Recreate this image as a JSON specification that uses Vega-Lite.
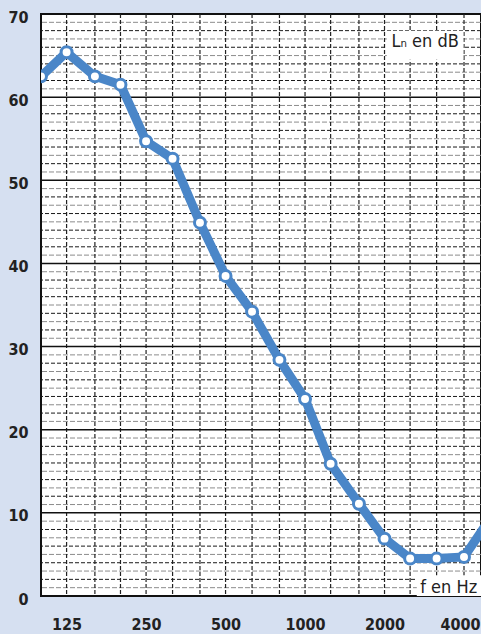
{
  "$schema": "https://vega.github.io/schema/vega-lite/v6.json",
  "width": 440,
  "height": 582,
  "autosize": {"type": "none"},
  "padding": {"left": 41, "top": 14, "right": 0, "bottom": 38},
  "background": "#d6e0f1",
  "config": {
    "view": {"fill": "white", "stroke": "#111111", "strokeWidth": 2},
    "axis": {
      "labelFont": "Liberation Sans Narrow, DejaVu Sans Condensed, sans-serif",
      "labelFontSize": 16,
      "labelFontWeight": "bold",
      "labelColor": "#222222",
      "domain": false,
      "ticks": false,
      "grid": false,
      "title": null
    }
  },
  "datasets": {
    "curve": [
      {"f": 100, "L": 62.5},
      {"f": 125, "L": 65.4},
      {"f": 160, "L": 62.5},
      {"f": 200, "L": 61.5},
      {"f": 250, "L": 54.7},
      {"f": 315, "L": 52.6},
      {"f": 400, "L": 44.9},
      {"f": 500, "L": 38.5},
      {"f": 630, "L": 34.2},
      {"f": 800, "L": 28.4},
      {"f": 1000, "L": 23.7},
      {"f": 1250, "L": 15.9},
      {"f": 1600, "L": 11.1},
      {"f": 2000, "L": 6.9},
      {"f": 2500, "L": 4.5},
      {"f": 3150, "L": 4.5},
      {"f": 4000, "L": 4.7},
      {"f": 5000, "L": 9.2}
    ],
    "oddLines": [
      {"dB": 1}, {"dB": 3}, {"dB": 5}, {"dB": 7}, {"dB": 9},
      {"dB": 11}, {"dB": 13}, {"dB": 15}, {"dB": 17}, {"dB": 19},
      {"dB": 21}, {"dB": 23}, {"dB": 25}, {"dB": 27}, {"dB": 29},
      {"dB": 31}, {"dB": 33}, {"dB": 35}, {"dB": 37}, {"dB": 39},
      {"dB": 41}, {"dB": 43}, {"dB": 45}, {"dB": 47}, {"dB": 49},
      {"dB": 51}, {"dB": 53}, {"dB": 55}, {"dB": 57}, {"dB": 59},
      {"dB": 61}, {"dB": 63}, {"dB": 65}, {"dB": 67}, {"dB": 69}
    ],
    "evenLines": [
      {"dB": 2}, {"dB": 4}, {"dB": 6}, {"dB": 8},
      {"dB": 12}, {"dB": 14}, {"dB": 16}, {"dB": 18},
      {"dB": 22}, {"dB": 24}, {"dB": 26}, {"dB": 28},
      {"dB": 32}, {"dB": 34}, {"dB": 36}, {"dB": 38},
      {"dB": 42}, {"dB": 44}, {"dB": 46}, {"dB": 48},
      {"dB": 52}, {"dB": 54}, {"dB": 56}, {"dB": 58},
      {"dB": 62}, {"dB": 64}, {"dB": 66}, {"dB": 68}
    ],
    "majorLines": [
      {"dB": 10}, {"dB": 20}, {"dB": 30}, {"dB": 40}, {"dB": 50}, {"dB": 60}
    ],
    "bands": [
      {"f": 125}, {"f": 160}, {"f": 200}, {"f": 250}, {"f": 315}, {"f": 400},
      {"f": 500}, {"f": 630}, {"f": 800}, {"f": 1000}, {"f": 1250}, {"f": 1600},
      {"f": 2000}, {"f": 2500}, {"f": 3150}, {"f": 4000}
    ],
    "boxes": [
      {"f": 2040, "fb": 3980, "dB": 64.5, "yb": 68},
      {"f": 2650, "fb": 4639, "dB": 0, "yb": 2.5}
    ],
    "labels": [
      {"text": "Lₙ en dB", "f": 2851, "dB": 66.6},
      {"text": "f en Hz", "f": 3500, "dB": 1.0}
    ]
  },
  "encoding": {
    "x": {"field": "f", "type": "quantitative",
          "scale": {"type": "log", "domain": [100, 4639], "nice": false},
          "axis": {"values": [125, 250, 500, 1000, 2000, 4000], "format": "d", "labelPadding": 20, "labelFlush": false, "labelOverlap": false,
                   "labelOffset": {"condition": {"test": "datum.value == 4000", "value": -4}, "value": 0}}},
    "y": {"field": "dB", "type": "quantitative", "scale": {"domain": [0, 70], "nice": false},
          "axis": {"values": [0, 10, 20, 30, 40, 50, 60, 70], "labelPadding": 13, "labelOffset": 3}}
  },
  "layer": [
    {
      "data": {"name": "oddLines"},
      "mark": {"type": "rule", "color": "#8c8c8c", "strokeWidth": 1, "strokeDash": [5, 2]},
      "encoding": {"x": null}
    },
    {
      "data": {"name": "evenLines"},
      "mark": {"type": "rule", "color": "#1a1a1a", "strokeWidth": 1, "strokeDash": [4, 2]},
      "encoding": {"x": null}
    },
    {
      "data": {"name": "bands"},
      "mark": {"type": "rule", "color": "#222222", "strokeWidth": 1.2, "strokeDash": [4, 2]},
      "encoding": {"y": null}
    },
    {
      "data": {"name": "majorLines"},
      "mark": {"type": "rule", "color": "#111111", "strokeWidth": 1.5},
      "encoding": {"x": null}
    },
    {
      "data": {"name": "boxes"},
      "mark": {"type": "rect", "color": "white"},
      "encoding": {
        "x2": {"field": "fb"},
        "y2": {"field": "yb"}
      }
    },
    {
      "data": {"name": "curve"},
      "mark": {"type": "line", "color": "#4a86c8", "strokeWidth": 9, "clip": true},
      "encoding": {
        "y": {"field": "L", "type": "quantitative"}
      }
    },
    {
      "data": {"name": "curve"},
      "mark": {"type": "point", "shape": "circle", "filled": true, "fill": "white", "stroke": "#4a86c8", "strokeWidth": 3, "size": 120, "opacity": 1, "clip": true},
      "encoding": {
        "y": {"field": "L", "type": "quantitative"}
      }
    },
    {
      "data": {"name": "labels"},
      "mark": {"type": "text", "font": "Liberation Sans Narrow, DejaVu Sans Condensed, sans-serif", "fontSize": 18, "color": "#222222", "align": "center", "baseline": "middle"},
      "encoding": {
        "text": {"field": "text"}
      }
    }
  ]
}
